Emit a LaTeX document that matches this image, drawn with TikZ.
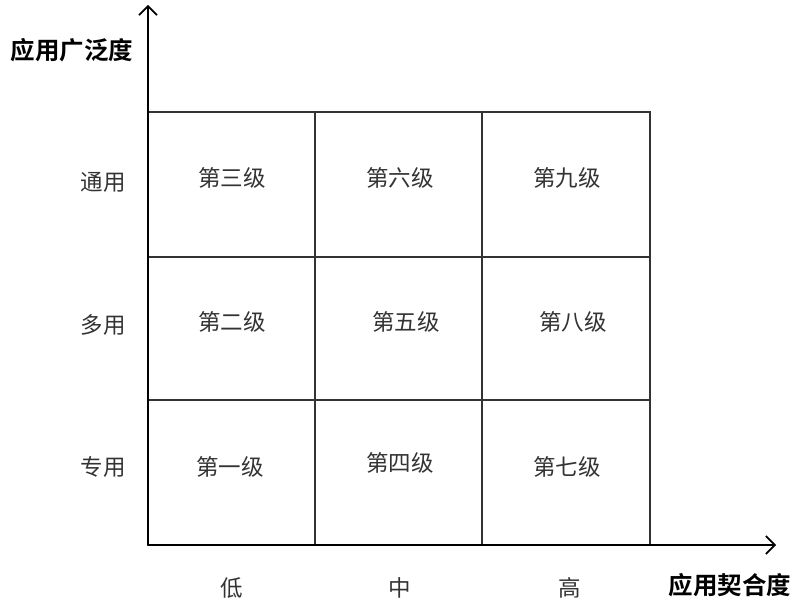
\documentclass[tikz,border=0pt]{standalone}
\usepackage{fontspec}
\newfontfamily\cjk{Noto Sans CJK SC}
\newfontfamily\cjkb{Noto Sans CJK SC Bold}
\usetikzlibrary{arrows.meta}
\tikzset{
  cell/.style={font=\cjk\fontsize{22.5}{22.5}\selectfont, text=black!80},
  lab/.style={font=\cjk\fontsize{22.5}{22.5}\selectfont, text=black!80},
  axtitle/.style={font=\cjkb\fontsize{24.5}{24.5}\selectfont, text=black},
  grid/.style={draw=black!80, line width=1.2pt},
  axis/.style={draw=black, line width=1.6pt, -{Straight Barb[length=9pt,width=18pt,line width=1.6pt]}}
}
\begin{document}
\begin{tikzpicture}[x=1pt,y=-1pt]
\useasboundingbox (0,0) rectangle (796,609);
% grid
\draw[grid] (148,112) rectangle (650,545);
\draw[grid] (315,112) -- (315,545);
\draw[grid] (482,112) -- (482,545);
\draw[grid] (148,257) -- (650,257);
\draw[grid] (148,400) -- (650,400);
% axes
\coordinate (o) at (148,545);
\coordinate (ytop) at (148,5);
\coordinate (xend) at (776,545);
\draw[axis] (o) -- (ytop);
\draw[axis] (o) -- (xend);
% axis titles
\node[axtitle] (yt) at (72,50) {应用广泛度};
\node[axtitle] (xt) at (730,585) {应用契合度};
% row labels
\node[lab] (r3) at (103,182) {通用};
\node[lab] (r2) at (103,325) {多用};
\node[lab] (r1) at (103,467) {专用};
% column labels
\node[lab] (c1) at (232,588) {低};
\node[lab] (c2) at (400,588) {中};
\node[lab] (c3) at (570,588) {高};
% cells
\node[cell] (l3) at (232,178) {第三级};
\node[cell] (l6) at (400,178) {第六级};
\node[cell] (l9) at (567,178) {第九级};
\node[cell] (l2) at (232,322) {第二级};
\node[cell] (l5) at (406,322) {第五级};
\node[cell] (l8) at (573,322) {第八级};
\node[cell] (l1) at (230,467) {第一级};
\node[cell] (l4) at (400,463) {第四级};
\node[cell] (l7) at (567,467) {第七级};
\end{tikzpicture}
\end{document}
